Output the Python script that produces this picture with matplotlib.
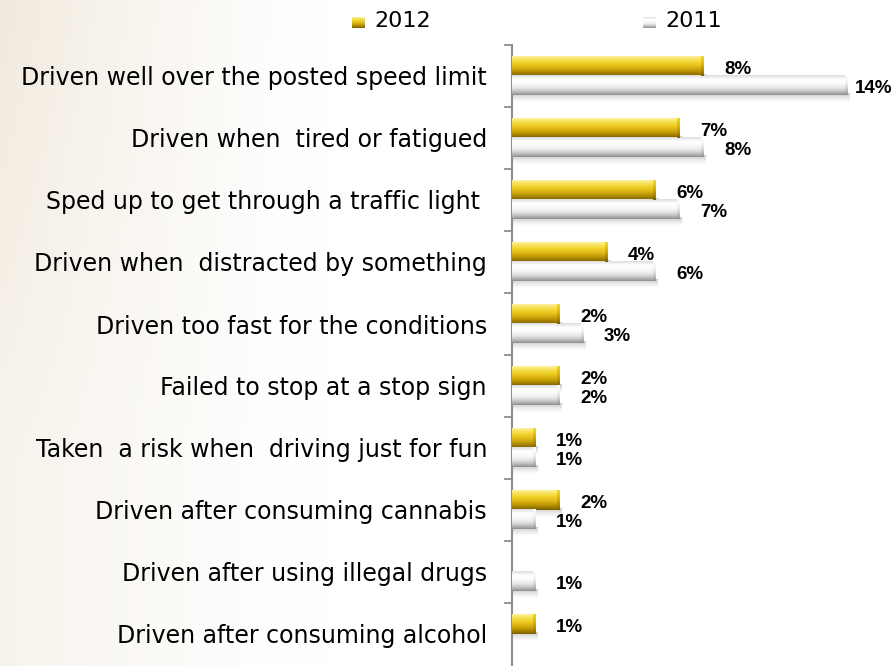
import numpy as np
import matplotlib.pyplot as plt
from matplotlib.colors import LinearSegmentedColormap

behaviours = [
    "Driven well over the posted speed limit",
    "Driven when  tired or fatigued",
    "Sped up to get through a traffic light ",
    "Driven when  distracted by something",
    "Driven too fast for the conditions",
    "Failed to stop at a stop sign",
    "Taken  a risk when  driving just for fun",
    "Driven after consuming cannabis",
    "Driven after using illegal drugs",
    "Driven after consuming alcohol",
]
pct_2012 = [8, 7, 6, 4, 2, 2, 1, 2, 0, 1]
pct_2011 = [14, 8, 7, 6, 3, 2, 1, 1, 1, 0]
years = ["2012", "2011"]

plt.rcParams['font.family'] = ['DejaVu Sans']

W, H = 894, 666
fig = plt.figure(figsize=(W / 100, H / 100), dpi=100)

# warm washed-out backdrop on the left side
bg = fig.add_axes([0, 0, 1, 1], zorder=-10)
gx, gy = np.meshgrid(np.linspace(0, 1, 300), np.linspace(0, 1, 220))
fade = np.clip(1 - gx / 0.36, 0, 1) ** 1.3 * (0.55 + 0.45 * np.clip(1 - gy / 0.7, 0, 1))
beige = np.array([0.945, 0.915, 0.865])
bg_img = 1 - fade[..., None] * (1 - beige)
bg.imshow(bg_img, extent=(0, 1, 0, 1), aspect='auto', interpolation='bicubic')
bg.axis('off')

ax = fig.add_axes([512 / W, 1 / H, 1 - 512 / W, 620 / H])
ax.patch.set_alpha(0)

gold = LinearSegmentedColormap.from_list(
    "gold", ["#fbf0a0", "#f6df48", "#ebca22", "#d8b010", "#b08c00", "#7a6000"])
silver = LinearSegmentedColormap.from_list(
    "silver", ["#dcdcdc", "#ffffff", "#fbfbfb", "#ededed", "#c9c9c9", "#8f8f8f"])

n = len(behaviours)
ypos = np.arange(n)[::-1].astype(float)
bh = 0.31
grad = np.linspace(0, 1, 64)[:, None]


def shaded_bars(vals, yc, cmap):
    bars = ax.barh(yc, vals, height=bh, color='none', linewidth=0, zorder=3)
    for b, v in zip(bars, vals):
        if v == 0:
            continue
        x0, y0 = b.get_x(), b.get_y()
        w, h = b.get_width(), b.get_height()
        # soft drop shadow under the bar
        sh = np.zeros((32, 2, 4))
        sh[..., :3] = 0.45
        sh[..., 3] = (np.linspace(0.55, 0, 32) ** 1.5)[:, None]
        ax.imshow(sh, extent=(x0 + 0.05, x0 + w + 0.08, y0 - 0.13, y0 + 0.02),
                  aspect='auto', zorder=2, interpolation='bilinear')
        ax.imshow(grad, cmap=cmap, extent=(x0, x0 + w, y0, y0 + h),
                  aspect='auto', zorder=4, interpolation='bilinear')
        # bevelled right end
        ax.imshow(grad, cmap=cmap, vmin=-0.4, vmax=1.0,
                  extent=(x0 + w - 0.12, x0 + w, y0, y0 + h),
                  aspect='auto', zorder=5, interpolation='bilinear')
    return bars


shaded_bars(pct_2012, ypos + bh / 2, gold)
shaded_bars(pct_2011, ypos - bh / 2, silver)

labels = []
for vals, yc in ((pct_2012, ypos + bh / 2), (pct_2011, ypos - bh / 2)):
    for v, y in zip(vals, yc):
        if v == 0:
            continue
        t = ax.annotate(f"{v}%", xy=(v, y), xytext=(20, -3), textcoords='offset pixels',
                        ha='left', va='center', fontsize=13.5, fontweight='bold',
                        family='Liberation Sans', color='black', zorder=6,
                        annotation_clip=False)
        labels.append(t)

ax.set_xlim(0, (W - 512) / 24)
ax.set_ylim(-0.5, n - 0.5)
ax.set_yticks(ypos)
ax.set_yticklabels(behaviours, fontsize=17)
ax.tick_params(axis='y', which='major', length=0, pad=18)
ax.set_yticks(np.arange(n) + 0.5, minor=True)
ax.tick_params(axis='y', which='minor', length=6, width=1.3, color='#8c8c8c')
ax.set_xticks([])
for s in ('top', 'right', 'bottom'):
    ax.spines[s].set_visible(False)
ax.spines['left'].set_color('#8c8c8c')
ax.spines['left'].set_linewidth(1.5)

# legend entries along the top
for k, (yr, cmap) in enumerate(zip(years, (gold, silver))):
    lx = 352 + k * 291
    lax = fig.add_axes([lx / W, 1 - 28 / H, 13 / W, 11 / H])
    lax.imshow(grad, cmap=cmap, aspect='auto', interpolation='bilinear')
    lax.axis('off')
    fig.text((lx + 22) / W, 1 - 21 / H, yr, fontsize=16, va='center', ha='left')

# keep value labels inside the canvas
fig.canvas.draw()
rend = fig.canvas.get_renderer()
for t in labels:
    ext = t.get_window_extent(rend)
    if ext.x1 > W - 2:
        dx, dy = t.xyann
        t.xyann = (dx - (ext.x1 - (W - 2)), dy)

fig.savefig("out.png", dpi=100)
